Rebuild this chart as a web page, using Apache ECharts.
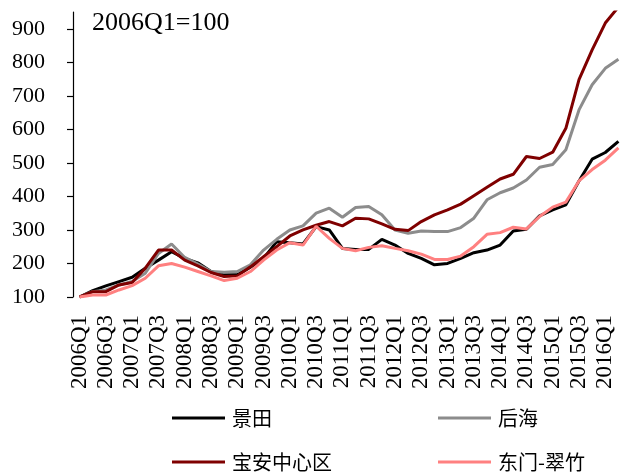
<!DOCTYPE html>
<html>
<head>
<meta charset="utf-8">
<script src="https://cdn.jsdelivr.net/npm/echarts@6/dist/echarts.min.js"></script>
<style>
  html, body { margin: 0; padding: 0; background: #fff; }
  #chart { width: 625px; height: 474px; }
</style>
</head>
<body>
<div id="chart"></div>
<script>
const QUARTERS = [
  "2006Q1", "2006Q2", "2006Q3", "2006Q4", "2007Q1", "2007Q2", "2007Q3", "2007Q4",
  "2008Q1", "2008Q2", "2008Q3", "2008Q4", "2009Q1", "2009Q2", "2009Q3", "2009Q4",
  "2010Q1", "2010Q2", "2010Q3", "2010Q4", "2011Q1", "2011Q2", "2011Q3", "2011Q4",
  "2012Q1", "2012Q2", "2012Q3", "2012Q4", "2013Q1", "2013Q2", "2013Q3", "2013Q4",
  "2014Q1", "2014Q2", "2014Q3", "2014Q4", "2015Q1", "2015Q2", "2015Q3", "2015Q4",
  "2016Q1", "2016Q2"
];

const JINGTIAN = [
  100, 119, 133, 146, 159, 186, 210, 235, 215, 202, 176, 166, 166, 189, 215, 265,
  262, 258, 310, 300, 245, 242, 242, 272, 255, 230, 215, 196, 200, 215, 232, 240,
  255, 297, 302, 342, 360, 375, 446, 511, 531, 564
];

const HOUHAI = [
  100, 116, 121, 136, 146, 171, 230, 258, 218, 198, 176, 174, 176, 196, 240, 272,
  300, 312, 350, 365, 338, 367, 370, 345, 300, 290, 297, 295, 295, 307, 335, 390,
  411, 425, 449, 487, 495, 539, 658, 733, 782, 809
];

const BAOAN = [
  100, 116, 116, 136, 143, 186, 240, 240, 210, 193, 173, 161, 163, 190, 220, 250,
  282, 300, 314, 325, 312, 335, 333, 318, 302, 298, 325, 345, 360, 377, 402, 427,
  452, 466, 519, 513, 532, 603, 748, 837, 917, 965
];

const DONGMEN = [
  100, 106, 106, 121, 134, 156, 193, 200, 189, 176, 163, 149, 156, 176, 210, 240,
  262, 255, 311, 275, 245, 238, 248, 253, 245, 238, 228, 212, 212, 222, 250, 287,
  292, 308, 303, 340, 368, 383, 446, 480, 508, 545
];

const Y_TICKS = [100, 200, 300, 400, 500, 600, 700, 800, 900];

const SERIES = [
  { name: "景田", data: JINGTIAN, color: "#000000" },
  { name: "后海", data: HOUHAI, color: "#8c8c8c" },
  { name: "宝安中心区", data: BAOAN, color: "#7f0000" },
  { name: "东门-翠竹", data: DONGMEN, color: "#ff8080" },
];

const SERIF = "'Liberation Serif', 'DejaVu Serif', serif";
const CJK = "'Noto Sans CJK SC', sans-serif";

// legend positions: two rows, two columns
const LEGEND_POS = [
  { left: 167, top: 403 },
  { left: 433, top: 403 },
  { left: 167, top: 447 },
  { left: 433, top: 447 },
];

const chart = echarts.init(document.getElementById("chart"));

chart.setOption({
  animation: false,
  grid: { left: 73, top: 12, width: 556.5, height: 285 },
  xAxis: {
    type: "category",
    data: QUARTERS,
    boundaryGap: true,
    axisLine: { show: false },
    axisTick: { show: false },
    axisLabel: {
      interval: 1,
      rotate: 90,
      margin: 18,
      color: "#000",
      fontFamily: SERIF,
      fontSize: 23,
    },
  },
  yAxis: {
    type: "value",
    min: 100,
    max: 950,
    interval: 100,
    splitLine: { show: false },
    axisLine: { show: true, lineStyle: { color: "#000", width: 1.2 } },
    axisTick: { show: true, length: 6, customValues: Y_TICKS, lineStyle: { color: "#000", width: 1.2 } },
    axisLabel: {
      customValues: Y_TICKS,
      margin: 28,
      color: "#000",
      fontFamily: SERIF,
      fontSize: 22,
    },
  },
  legend: SERIES.map((s, i) => ({
    data: [s.name],
    left: LEGEND_POS[i].left,
    top: LEGEND_POS[i].top,
    icon: "rect",
    itemWidth: 53,
    itemHeight: 3,
    selectedMode: false,
    textStyle: { color: "#000", fontFamily: CJK, fontSize: 20, padding: [0, 0, 0, 2] },
  })),
  graphic: [
    {
      type: "text",
      left: 92,
      top: 10,
      style: { text: "2006Q1=100", fill: "#000", font: "26px " + SERIF },
    },
  ],
  series: SERIES.map((s) => ({
    name: s.name,
    type: "line",
    data: s.data,
    symbol: "none",
    color: s.color,
    lineStyle: { color: s.color, width: 3 },
  })),
});
</script>
</body>
</html>
